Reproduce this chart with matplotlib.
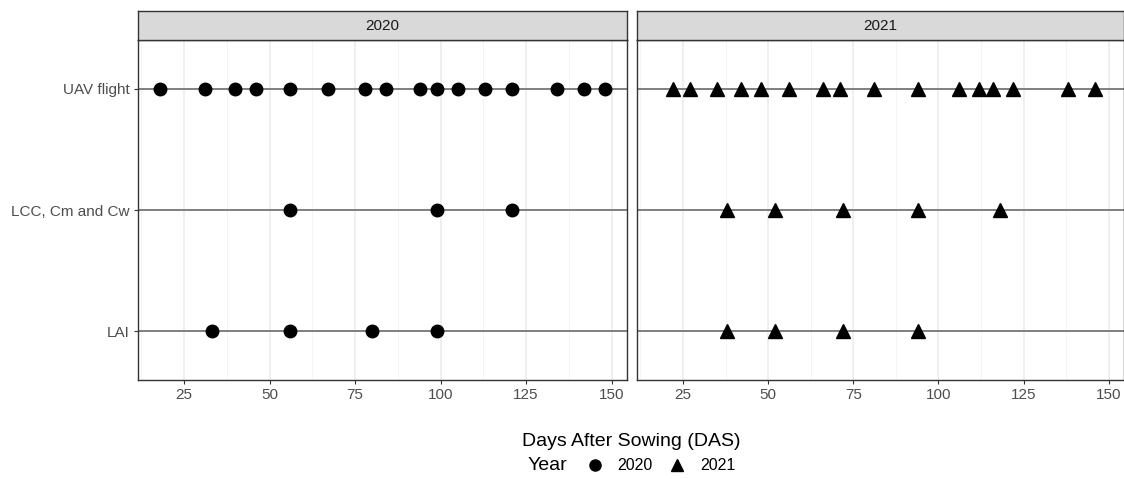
import matplotlib.pyplot as plt
from matplotlib.lines import Line2D

plt.rcParams['font.family'] = ['Liberation Sans', 'DejaVu Sans']

# Measurement dates (days after sowing) per year and measurement type
categories = ["LAI", "LCC, Cm and Cw", "UAV flight"]
years = ["2020", "2021"]

uav_2020 = [18, 31, 40, 46, 56, 67, 78, 84, 94, 99, 105, 113, 121, 134, 142, 148]
lcc_2020 = [56, 99, 121]
lai_2020 = [33, 56, 80, 99]

uav_2021 = [22, 27, 35, 42, 48, 56, 66, 71, 81, 94, 106, 112, 116, 122, 138, 146]
lcc_2021 = [38, 52, 72, 94, 118]
lai_2021 = [38, 52, 72, 94]

data = {
    "2020": {"LAI": lai_2020, "LCC, Cm and Cw": lcc_2020, "UAV flight": uav_2020},
    "2021": {"LAI": lai_2021, "LCC, Cm and Cw": lcc_2021, "UAV flight": uav_2021},
}
markers = {"2020": "o", "2021": "^"}
msizes = {"2020": 9, "2021": 10}

fig = plt.figure(figsize=(11.24, 4.79), dpi=100)

W, H = 1124, 479
panels = [(138, 627), (637, 1124)]
top, bottom = 40, 380
strip_top = 11

xmin = min(min(uav_2020), min(uav_2021))
xmax = max(max(uav_2020), max(uav_2021))
pad = (xmax - xmin) * 0.05

for i, (yr, (x0, x1)) in enumerate(zip(years, panels)):
    ax = fig.add_axes([x0 / W, 1 - bottom / H, (x1 - x0) / W, (bottom - top) / H])
    ax.set_xlim(xmin - pad, xmax + pad)
    ax.set_ylim(0.6, 3.4)
    ax.set_xticks([25, 50, 75, 100, 125, 150])
    ax.set_xticks([12.5, 37.5, 62.5, 87.5, 112.5, 137.5], minor=True)
    ax.grid(True, which="major", axis="x", color="#ebebeb", lw=1.1)
    ax.grid(True, which="minor", axis="x", color="#f2f2f2", lw=0.6)
    ax.set_axisbelow(True)
    ax.tick_params(which="minor", length=0)
    ax.tick_params(which="major", length=3, width=0.8, color="#333333",
                   labelsize=11, labelcolor="#4d4d4d", pad=3)
    for sp in ax.spines.values():
        sp.set_color("#333333")
        sp.set_linewidth(1.0)

    for j, cat in enumerate(categories):
        yv = j + 1
        ax.axhline(yv, color="#7f7f7f", lw=1.4, zorder=1)
        xs = data[yr][cat]
        ax.plot(xs, [yv] * len(xs), linestyle="none", marker=markers[yr],
                markersize=msizes[yr], color="black", zorder=3)

    ax.set_yticks([1, 2, 3])
    if i == 0:
        ax.set_yticklabels(categories)
    else:
        ax.set_yticklabels([])
        ax.tick_params(axis="y", length=0)

    # facet strip
    sax = fig.add_axes([x0 / W, 1 - top / H, (x1 - x0) / W, (top - strip_top) / H])
    sax.set_facecolor("#d9d9d9")
    sax.set_xticks([])
    sax.set_yticks([])
    for sp in sax.spines.values():
        sp.set_color("#333333")
        sp.set_linewidth(1.0)
    sax.text(0.5, 0.5, yr, ha="center", va="center", fontsize=11,
             color="#1a1a1a", transform=sax.transAxes)

fig.text(0.5 * (138 + 1124) / W, 1 - 441 / H, "Days After Sowing (DAS)",
         ha="center", va="center", fontsize=14)

fig.text(528 / W, 1 - 466 / H, "Year", ha="left", va="center", fontsize=14)
handles = [Line2D([], [], linestyle="none", marker=markers[y], markersize=msizes[y] - 1,
                  color="black", label=y) for y in years]
fig.legend(handles=handles, labels=years, loc="center left",
           bbox_to_anchor=(585 / W, 1 - 466 / H), ncol=2, borderaxespad=0,
           frameon=False, fontsize=11.5, borderpad=0,
           handletextpad=0.85, columnspacing=0.9, handlelength=1.2)

fig.savefig("out.png", dpi=100)
